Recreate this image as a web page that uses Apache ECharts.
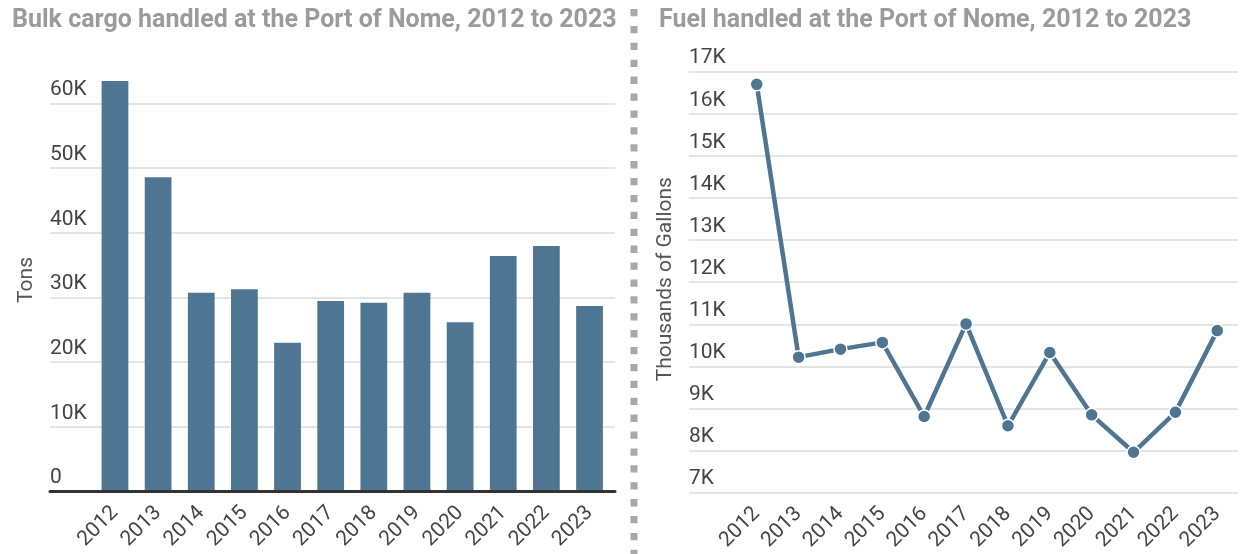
<!DOCTYPE html>
<html>
<head>
<meta charset="utf-8">
<script src="https://cdn.jsdelivr.net/npm/echarts@6/dist/echarts.min.js"></script>
<style>
  html, body { margin: 0; padding: 0; background: #fff; }
  #chart { width: 1244px; height: 554px; }
</style>
</head>
<body>
<div id="chart"></div>
<script>
// years shared by both panels
const years = ["2012", "2013", "2014", "2015", "2016", "2017", "2018", "2019", "2020", "2021", "2022", "2023"];
// bulk cargo, tons
const bulkTons = [63450, 48570, 30740, 31270, 23020, 29460, 29200, 30740, 26170, 36410, 37960, 28690];
// fuel, thousands of gallons
const fuelGallons = [16700, 10220, 10410, 10570, 8810, 11010, 8590, 10330, 8850, 7960, 8910, 10850];

const blue = "#4e7592";
const fontFamily = "Roboto, 'Noto Sans', sans-serif";
const kFormat = (v) => (v === 0 ? "0" : v / 1000 + "K");

const tickLabel = {
  inside: true,
  margin: 0,
  color: "#444",
  fontSize: 21,
  fontFamily: fontFamily,
  verticalAlign: "bottom",
  padding: [0, 0, 3, 0],
  formatter: kFormat,
};
const yearLabel = {
  rotate: 45,
  margin: 18,
  color: "#444",
  fontSize: 21,
  fontFamily: fontFamily,
};
const gridLine = { show: true, lineStyle: { color: "#e4e4e4", width: 2 } };
const titleStyle = { fontSize: 25, fontWeight: "bold", color: "#9b9b9b", fontFamily: fontFamily };
const nameStyle = { color: "#555", fontSize: 21, fontFamily: fontFamily };

const chart = echarts.init(document.getElementById("chart"));
chart.setOption({
  animation: false,
  title: [
    { text: "Bulk cargo handled at the Port of Nome, 2012 to 2023", left: 12, top: 8, padding: 0, textStyle: titleStyle },
    { text: "Fuel handled at the Port of Nome, 2012 to 2023", left: 659, top: 8, padding: 0, textStyle: titleStyle },
  ],
  graphic: [
    {
      type: "line",
      shape: { x1: 634, y1: 9, x2: 634, y2: 554 },
      style: { stroke: "#a8a8a8", lineWidth: 7, lineDash: [7.3, 9.6] },
    },
  ],
  grid: [
    // background grids carry the gridlines that run under the tick labels
    { left: 50, top: 103.3, width: 565, height: 388.4 },
    { left: 93.4, top: 103.3, width: 517.7, height: 388.4 },
    { left: 689, top: 71.7, width: 549, height: 421 },
    { left: 735.8, top: 71.7, width: 502.4, height: 421 },
  ],
  xAxis: [
    {
      gridIndex: 0, type: "value", min: 0, max: 1, z: 5,
      axisLine: { show: true, lineStyle: { color: "#333", width: 3 } },
      axisTick: { show: false }, axisLabel: { show: false }, splitLine: { show: false },
    },
    {
      gridIndex: 1, type: "category", data: years,
      axisLine: { show: false }, axisTick: { show: false }, axisLabel: yearLabel,
    },
    { gridIndex: 2, type: "value", min: 0, max: 1, show: false },
    {
      gridIndex: 3, type: "category", data: years,
      axisLine: { show: false }, axisTick: { show: false }, axisLabel: yearLabel,
    },
  ],
  yAxis: [
    {
      gridIndex: 0, type: "value", min: 0, max: 60000, interval: 10000,
      name: "Tons", nameLocation: "middle", nameGap: 13,
      nameTextStyle: Object.assign({}, nameStyle, { padding: [0, 0, 0, 35] }),
      axisLine: { show: false }, axisTick: { show: false },
      axisLabel: tickLabel, splitLine: gridLine,
    },
    { gridIndex: 1, type: "value", min: 0, max: 60000, interval: 10000, show: false, splitLine: { show: false } },
    {
      gridIndex: 2, type: "value", min: 7000, max: 17000, interval: 1000,
      name: "Thousands of Gallons", nameLocation: "middle", nameGap: 13,
      nameTextStyle: Object.assign({}, nameStyle, { padding: [0, 0, 0, 6] }),
      axisLine: { show: false }, axisTick: { show: false },
      axisLabel: tickLabel, splitLine: gridLine,
    },
    { gridIndex: 3, type: "value", min: 7000, max: 17000, interval: 1000, show: false, splitLine: { show: false } },
  ],
  series: [
    {
      name: "Bulk cargo",
      type: "bar",
      xAxisIndex: 1,
      yAxisIndex: 1,
      clip: false,
      barCategoryGap: "38%",
      itemStyle: { color: blue },
      data: bulkTons,
    },
    {
      name: "Fuel",
      type: "line",
      xAxisIndex: 3,
      yAxisIndex: 3,
      clip: false,
      symbol: "circle",
      symbolSize: 13,
      lineStyle: { color: blue, width: 4.5 },
      itemStyle: { color: blue, borderColor: "#fff", borderWidth: 1.5 },
      data: fuelGallons,
    },
  ],
});
</script>
</body>
</html>
